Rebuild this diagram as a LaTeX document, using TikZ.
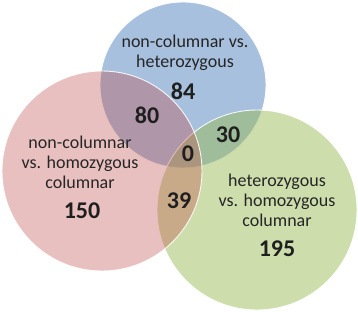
\documentclass[tikz,border=0pt]{standalone}
\usepackage{fontspec}
\setmainfont{Carlito}
\begin{document}
\begin{tikzpicture}[x=1pt,y=-1pt,
  venn/.style={draw=white,line width=0.9pt,fill opacity=0.5,draw opacity=0.9},
  lbl/.style={align=center,font=\fontsize{18}{20}\selectfont,text=black!85},
  num/.style={font=\fontsize{24}{26}\selectfont\bfseries,text=black!88}]
\useasboundingbox (0,0) rectangle (358,312);
\definecolor{cblue}{RGB}{79,129,189}
\definecolor{cred}{RGB}{192,80,77}
\definecolor{cgreen}{RGB}{155,187,89}
\path[venn,fill=cblue] (183,85) circle (83);
\path[venn,fill=cgreen] (257,210) circle (100);
\path[venn,fill=cred,fill opacity=0.36] (102,171) circle (100);
\node[lbl] (tb) at (185,53) {non-columnar vs.\\heterozygous};
\node[lbl] (tp) at (80,162) {non-columnar\\vs. homozygous\\columnar};
\node[lbl] (tg) at (277,200) {heterozygous\\vs. homozygous\\columnar};
\node[num] (n84) at (183,91) {84};
\node[num] (n80) at (147,115) {80};
\node[num] (n30) at (228,135) {30};
\node[num] (n0) at (188,154) {0};
\node[num] (n39) at (179,201) {39};
\node[num] (n150) at (82,211) {150};
\node[num] (n195) at (277,249) {195};
\end{tikzpicture}
\end{document}
